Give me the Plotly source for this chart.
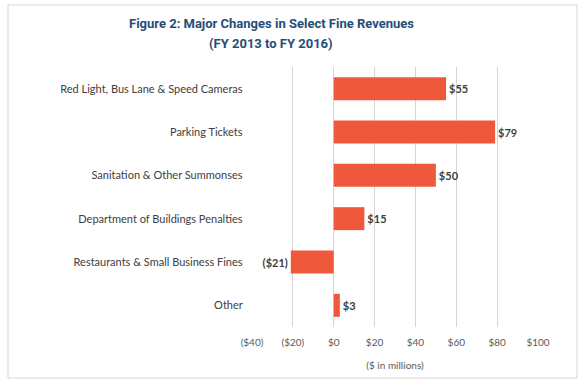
import plotly.graph_objects as go

categories = [
    "Red Light, Bus Lane & Speed Cameras",
    "Parking Tickets",
    "Sanitation & Other Summonses",
    "Department of Buildings Penalties",
    "Restaurants & Small Business Fines",
    "Other",
]
values = [55, 79, 50, 15, -21, 3]
tick_vals = [-40, -20, 0, 20, 40, 60, 80, 100]
tick_text = ["($40)", "($20)", "$0", "$20", "$40", "$60", "$80", "$100"]
title_lines = ["Figure 2: Major Changes in Select Fine Revenues", "(FY 2013 to FY 2016)"]


def fmt(v):
    return f"(${abs(v)})" if v < 0 else f"${v}"


labels = [fmt(v) for v in values]

fig = go.Figure(
    go.Bar(
        x=values,
        y=categories,
        orientation="h",
        marker=dict(color="#F0583C", line=dict(width=0)),
        text=labels,
        textposition="outside",
        textfont=dict(family="Lato", size=11, color="#404040", weight="bold"),
        cliponaxis=False,
        width=0.53,
    )
)

W, H = 585, 382
L, R, T, B = 252, 585 - 538, 67, 382 - 327
pw, ph = W - L - R, H - T - B


def px(x):
    return (x - L) / pw


def py(y):
    return (H - B - y) / ph


annotations = [
    dict(
        text=t,
        xref="paper",
        yref="paper",
        x=px(271),
        y=py(yc),
        xanchor="center",
        yanchor="middle",
        showarrow=False,
        font=dict(family="Roboto", size=13, color="#1F4E79", weight="bold"),
    )
    for t, yc in zip(title_lines, [24, 43])
]

fig.update_layout(
    width=W,
    height=H,
    margin=dict(l=L, r=R, t=T, b=B, autoexpand=False),
    paper_bgcolor="white",
    plot_bgcolor="white",
    showlegend=False,
    annotations=annotations,
    xaxis=dict(
        range=[-40, 100],
        tickvals=tick_vals,
        ticktext=tick_text,
        showgrid=True,
        gridcolor="#D6D6D6",
        gridwidth=1,
        zeroline=False,
        showline=False,
        ticks="",
        ticklabelstandoff=8,
        tickfont=dict(family="Lato", size=10, color="#595959"),
        title=dict(
            text="($ in millions)",
            font=dict(family="Lato", size=10, color="#595959"),
            standoff=14,
        ),
    ),
    yaxis=dict(
        autorange="reversed",
        showgrid=False,
        zeroline=False,
        showline=False,
        ticks="",
        ticksuffix="   ",
        tickfont=dict(family="Lato", size=11, color="#404040"),
    ),
    shapes=[
        dict(
            type="rect",
            xref="paper",
            yref="paper",
            x0=px(8),
            x1=px(577),
            y0=py(378),
            y1=py(5),
            line=dict(color="#D6D6D6", width=1),
            fillcolor="rgba(0,0,0,0)",
            layer="above",
        )
    ],
)

fig.write_html(
    "out.html",
    config={"displayModeBar": False},
    post_script="document.body.style.margin='0';document.body.style.padding='0';",
)
